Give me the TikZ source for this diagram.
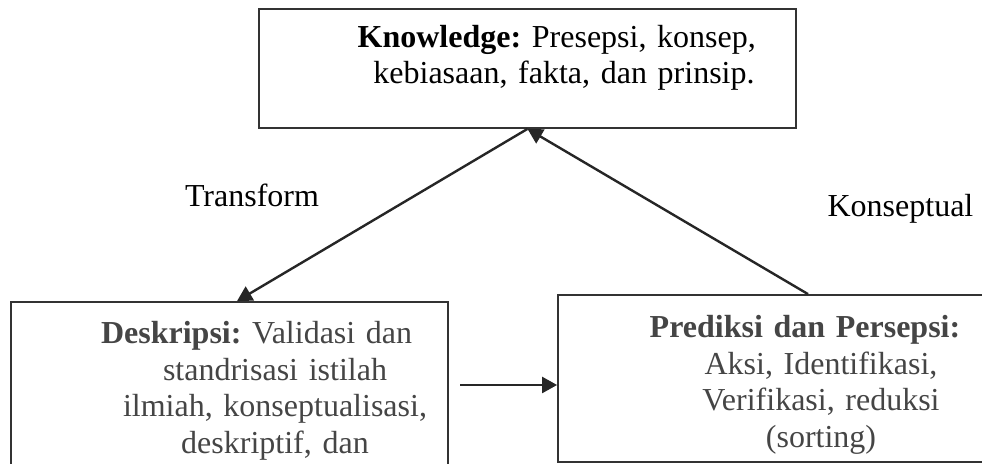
\documentclass[tikz,border=0pt]{standalone}
\usepackage{fontspec}
\setmainfont{Liberation Serif}
\usepackage{xcolor}
\usepackage{tikz}
\usetikzlibrary{arrows.meta}
\definecolor{abu}{HTML}{454545}
\tikzstyle{kotak} = [draw=black!80, line width=0.9pt, inner sep=0pt]
\tikzstyle{huruf} = [inner sep=0pt, font=\fontsize{16pt}{18.25pt}\selectfont\frenchspacing]
\tikzstyle{isi} = [huruf, text width=300pt, align=center]
\tikzstyle{panah} = [draw=black!85, line width=1.2pt, -{Triangle[length=7.5pt,width=8pt]}]

\begin{document}
\begin{tikzpicture}[x=0.5pt, y=-0.5pt] % one unit is one pixel of the layout
    \useasboundingbox (0,0) rectangle (982,464);
    \clip (0,0) rectangle (982,464);
    % boxes
    \node[kotak, minimum width=268.5pt, minimum height=59.5pt] (knowledge) at (527.5,68.5) {};
    \node[kotak, minimum width=218.5pt, minimum height=99pt] (deskripsi) at (229.5,401) {};
    \node[kotak, minimum width=250pt, minimum height=83.5pt] (prediksi) at (808,378.5) {};
    % texts in the boxes
    \node[isi] (knowledgeisi) at (564,58) {\mbox{\textbf{Knowledge:} Presepsi, konsep,\hspace{0.45em}}\\
        kebiasaan, fakta, dan prinsip.};
    \node[isi, text=abu] (deskripsiisi) at (275,391) {\mbox{\textbf{Deskripsi:} Validasi dan\hspace{1.15em}}\\
        standrisasi istilah\\ ilmiah, konseptualisasi,\\ deskriptif, dan};
    \node[isi, text=abu] (prediksiisi) at (821,385) {\mbox{\textbf{Prediksi dan Persepsi:}\hspace{1em}}\\
        Aksi, Identifikasi,\\ Verifikasi, reduksi\\ (sorting)};
    % labels
    \node[huruf, anchor=base] (transform) at (252,207) {Transform};
    \node[huruf, anchor=base] (konseptual) at (900.5,217) {Konseptual};
    % arrows
    \draw[panah] (knowledge.south) -- ([xshift=3.75pt]deskripsi.north);
    \draw[panah] (prediksi.north) -- (knowledge.south);
    \coordinate (mulai) at (460,385);
    \draw[panah] (mulai) -- (mulai -| prediksi.west);
\end{tikzpicture}
\end{document}
